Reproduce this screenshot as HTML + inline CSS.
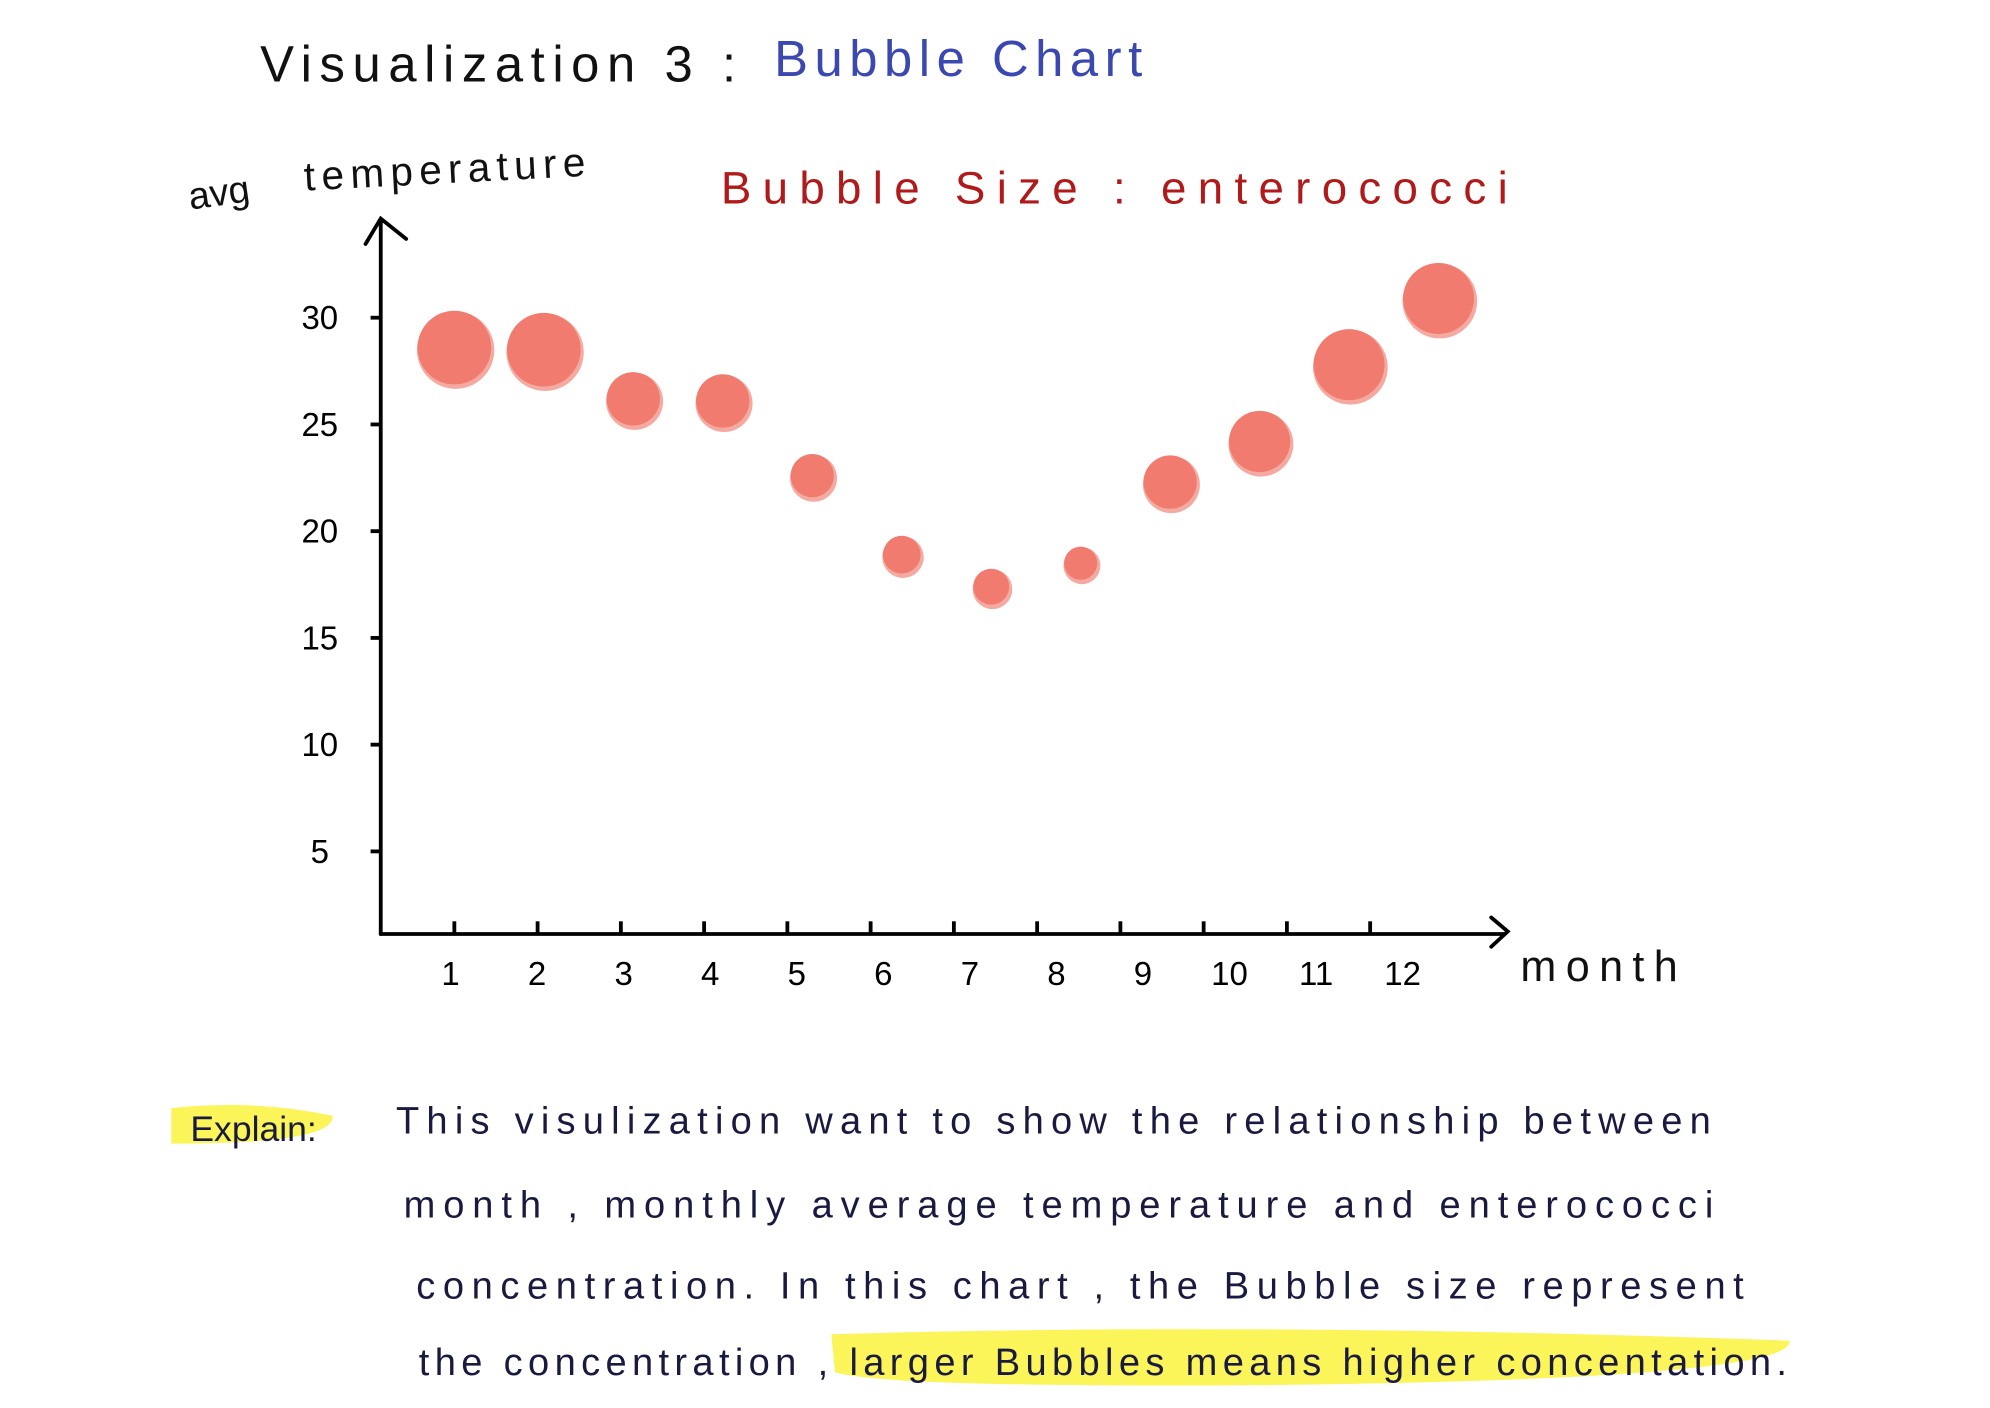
<!DOCTYPE html>
<html><head><meta charset="utf-8">
<style>
html,body{margin:0;padding:0;background:#fff;}
svg{display:block;}
text{font-family:"Liberation Sans",sans-serif;}
</style></head>
<body>
<svg id="chart" width="1990" height="1408" viewBox="0 0 1568 1108" preserveAspectRatio="none" xmlns="http://www.w3.org/2000/svg">
<rect width="1568" height="1108" fill="#fff"/>
<text x="205" y="64" font-size="40" fill="#111" textLength="375" lengthAdjust="spacing">Visualization 3 :</text>
<text x="610" y="60" font-size="40" fill="#3a48b0" textLength="290" lengthAdjust="spacing">Bubble  Chart</text>
<text x="150" y="165" font-size="30" fill="#111" transform="rotate(-8 150 165)">avg</text>
<text x="240" y="150" font-size="32" fill="#111" transform="rotate(-3 240 150)" textLength="222" lengthAdjust="spacing">temperature</text>
<text x="568" y="160" font-size="36" fill="#b01a1a" textLength="620" lengthAdjust="spacing">Bubble  Size :  enterococci</text>
<g stroke="#000" stroke-width="3" fill="none" stroke-linecap="round">
<path d="M300 735 L300 175 M288 192 L300 172 L320 188"/>
<path d="M300 735 L1185 735 M1175 722 L1188 733 L1175 745"/>
</g>
<g id="yticks"></g>
<g id="xticks"></g>
<g id="bubbles"></g>
<text x="1198" y="772" font-size="34" fill="#111" textLength="124" lengthAdjust="spacing">month</text>
<path d="M135 872 Q200 865 262 878 Q265 900 135 900 Z" fill="#fbf55a"/>
<path d="M655 1050 Q1000 1040 1410 1055 Q1415 1085 1000 1090 Q700 1092 658 1080 Z" fill="#fbf55a"/>
<text x="150" y="898" font-size="28" fill="#1a1a40">Explain:</text>
<g font-size="30" fill="#1a1a40">
<text x="312" y="892" textLength="1036" lengthAdjust="spacing">This  visulization  want  to  show the  relationship  between</text>
<text x="318" y="958" textLength="1032" lengthAdjust="spacing">month ,  monthly  average  temperature  and  enterococci</text>
<text x="328" y="1022" textLength="1046" lengthAdjust="spacing">concentration.  In  this  chart ,  the  Bubble  size  represent</text>
<text x="330" y="1082" textLength="1078" lengthAdjust="spacing">the  concentration ,  larger  Bubbles   means  higher  concentation.</text>
</g>
</svg>
<script>
const months=[1,2,3,4,5,6,7,8,9,10,11,12];
const avgTemp=[28.6,28.5,26.2,26.1,22.6,18.9,17.4,18.5,22.3,24.2,27.8,30.9];
const enterococci=[84,84,44,44,29,22,20,17,44,58,78,78];
const yTickLabels=[5,10,15,20,25,30];
const NS="http://www.w3.org/2000/svg";
function xs(m){return 358+(m-1)*70.5;}
function xTick(m){return 358+(m-1)*65.6;}
function xLab(m){return 355+(m-1)*68.2;}
function ys(v){return 670-(v-5)*16.8;}
function rs(c){return Math.sqrt(c*10);}
const yt=document.getElementById('yticks');
yTickLabels.forEach(v=>{
 const l=document.createElementNS(NS,'line');
 
 
 l.setAttribute('x1',292);l.setAttribute('x2',300);l.setAttribute('y1',ys(v));l.setAttribute('y2',ys(v));
 l.setAttribute('stroke','#000');l.setAttribute('stroke-width',3);yt.appendChild(l);
 const t=document.createElementNS(NS,'text');
 
 
 t.setAttribute('x',252);t.setAttribute('y',ys(v)+9);t.setAttribute('text-anchor','middle');t.setAttribute('font-size',26);
 t.textContent=v;yt.appendChild(t);
});
const xt=document.getElementById('xticks');
months.forEach(m=>{
 const l=document.createElementNS(NS,'line');
 
 
 l.setAttribute('x1',xTick(m));l.setAttribute('x2',xTick(m));l.setAttribute('y1',725);l.setAttribute('y2',735);
 l.setAttribute('stroke','#000');l.setAttribute('stroke-width',3);xt.appendChild(l);
 const t=document.createElementNS(NS,'text');
 
 
 t.setAttribute('x',xLab(m));t.setAttribute('y',775);t.setAttribute('text-anchor','middle');t.setAttribute('font-size',26);
 t.textContent=m;xt.appendChild(t);
});
const bg=document.getElementById('bubbles');
months.forEach((m,i)=>{
 const h=document.createElementNS(NS,'circle');
 
 
 h.setAttribute('cx',xs(m)+1);h.setAttribute('cy',ys(avgTemp[i])+2);h.setAttribute('r',rs(enterococci[i])+1.5);
 h.setAttribute('fill','#f5aaa1');bg.appendChild(h);
 const c=document.createElementNS(NS,'circle');
 
 
 c.setAttribute('cx',xs(m));c.setAttribute('cy',ys(avgTemp[i]));c.setAttribute('r',rs(enterococci[i]));
 c.setAttribute('fill','#f07b6e');bg.appendChild(c);
});
</script>
</body></html>
